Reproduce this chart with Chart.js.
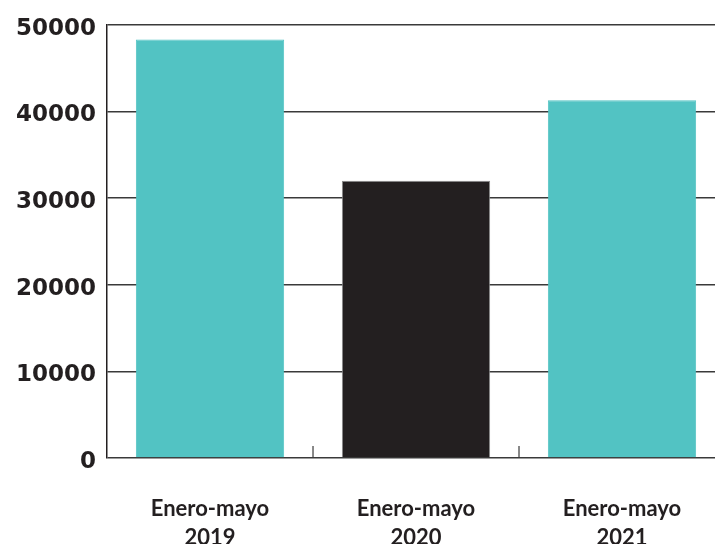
<!DOCTYPE html>
<html>
<head>
<meta charset="utf-8">
<script src="https://cdn.jsdelivr.net/npm/chart.js@4.4.1/dist/chart.umd.min.js"></script>
<style>
  html, body { margin: 0; padding: 0; background: #fff; overflow: hidden; }
  canvas { display: block; }
</style>
</head>
<body>
<canvas id="grafico" width="725" height="580" style="width:725px;height:580px"></canvas>
<script>
const categorias = [["Enero-mayo", "2019"], ["Enero-mayo", "2020"], ["Enero-mayo", "2021"]];
const valores = [48300, 32000, 41300];
const cores = ["#52c3c3", "#231f20", "#52c3c3"];
const bordas = ["#52c3c3", "#8a8a8a", "#52c3c3"];

const ctx_grafico = document.getElementById("grafico");

// marquinhas entre categorias, saindo do eixo pra cima
const tickMarks = {
    id: "tickMarks",
    afterDatasetsDraw(chart) {
        const x = chart.scales.x;
        const area = chart.chartArea;
        const c = chart.ctx;
        c.save();
        c.strokeStyle = "#3a3a3a";
        c.lineWidth = 1.2;
        for (let i = 1; i < categorias.length; i++) {
            const px = (x.getPixelForValue(i - 1) + x.getPixelForValue(i)) / 2;
            c.beginPath();
            c.moveTo(px, area.bottom);
            c.lineTo(px, area.bottom - 12);
            c.stroke();
        }
        c.restore();
    }
};

const grafico = new Chart(ctx_grafico, {
    type: 'bar',
    data: {
        labels: categorias,
        datasets: [{
            data: valores,
            backgroundColor: cores,
            borderColor: bordas,
            borderWidth: 1,
            barPercentage: 0.72,
            categoryPercentage: 1.0
        }]
    },
    options: {
        responsive: false,
        animation: false,
        layout: { padding: { top: 7, left: 5, right: 0, bottom: 0 } },
        plugins: {
            legend: { display: false },
            tooltip: { enabled: false }
        },
        scales: {
            x: {
                grid: { display: false },
                border: { display: false },
                ticks: {
                    padding: 28,
                    color: "#231f20",
                    font: { family: "Lato", size: 22, weight: "bold", lineHeight: 1.32 },
                    maxRotation: 0
                }
            },
            y: {
                min: 0,
                max: 50000,
                grid: { color: "#3a3a3a", lineWidth: 1.4, drawTicks: false },
                border: { display: true, color: "#231f20", width: 1.5 },
                ticks: {
                    stepSize: 10000,
                    padding: 11,
                    labelOffset: 4,
                    color: "#231f20",
                    font: { family: "DejaVu Sans", size: 23, weight: "bold" },
                    callback: (v) => String(v)
                }
            }
        }
    },
    plugins: [tickMarks]
});
</script>
</body>
</html>
